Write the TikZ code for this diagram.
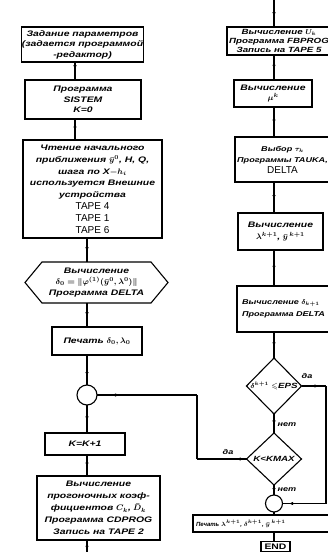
\documentclass[tikz,border=0pt]{standalone}
\usepackage{amsmath,amssymb}
\usepackage{fontspec}
\newfontfamily\hw[FakeStretch=1.3]{Liberation Sans}
\newfontfamily\tp{Liberation Sans}
\usetikzlibrary{shapes.geometric,arrows.meta,decorations.markings}
\begin{document}
\begin{tikzpicture}[x=1pt,y=-1pt,
  every node/.style={inner sep=0pt, outer sep=0pt},
  ln/.style={line width=1.1pt},
  box/.style={draw, ln, align=center, font=\hw\bfseries\itshape\boldmath\fontsize{8}{10.5}\selectfont},
  dia/.style={draw, ln, diamond, font=\hw\bfseries\itshape\boldmath\fontsize{7.5}{9}\selectfont},
  circ/.style={draw, ln, circle},
  lbl/.style={font=\hw\bfseries\itshape\fontsize{7}{8}\selectfont},
  mid/.style={postaction={decorate}, decoration={markings, mark=at position #1 with {\arrow{Latex[length=4pt,width=3.5pt]}}}},
  mid/.default=0.55
]
\useasboundingbox (0,0) rectangle (328,552);
\clip (0,0) rectangle (328,552);
% ---------- left column ----------
\node[box, minimum width=115pt, minimum height=35pt] (b1) at (82.5,44.5)
  {Задание параметров\\(задается программой\\-редактор)};
\node[box, minimum width=116pt, minimum height=39pt] (b2) at (83,99.5)
  {Программа\\SISTEM\\K=0};
\node[box, minimum width=139pt, minimum height=98pt, font=\hw\bfseries\itshape\boldmath\fontsize{8}{11.8}\selectfont] (b3) at (92.5,189)
  {Чтение начального\\приближения $\bar y^0$, H, Q,\\шага по X$-h_i$\\используется Внешние\\устройства\\
   {\tp\mdseries\upshape\fontsize{10}{11}\selectfont TAPE 4}\\
   {\tp\mdseries\upshape\fontsize{10}{11}\selectfont TAPE 1}\\
   {\tp\mdseries\upshape\fontsize{10}{11}\selectfont TAPE 6}};
\node[align=center, font=\hw\bfseries\itshape\boldmath\fontsize{8}{11}\selectfont, minimum width=143pt, minimum height=41pt] (hx) at (96.5,282.5)
  {Вычисление\\$\delta_0=\|\varphi^{(1)}(\bar y^0,\lambda^0)\|$\\Программа DELTA};
\draw[ln] (hx.west) -- ([xshift=17pt]hx.north west) -- ([xshift=-17pt]hx.north east) -- (hx.east)
  -- ([xshift=-17pt]hx.south east) -- ([xshift=17pt]hx.south west) -- cycle;
\node[box, minimum width=90pt, minimum height=28pt] (p1) at (97,341) {Печать $\delta_0,\lambda_0$};
\node[circ, minimum size=20pt] (c1) at (87,395) {};
\node[box, minimum width=80pt, minimum height=22pt] (b5) at (85,444) {K=K+1};
\node[box, minimum width=123pt, minimum height=64pt, font=\hw\bfseries\itshape\boldmath\fontsize{8}{12}\selectfont] (b6) at (98.5,508)
  {Вычисление\\прогоночных коэф-\\фициентов $C_k$,\;$\bar D_k$\\Программа CDPROG\\Запись на TAPE 2};
\coordinate (LA) at (75,0);
\coordinate (LB) at (87,0);
\coordinate (out) at (87,553);
\draw[ln,mid=0.4] (b1.south -| LA) -- (b2.north -| LA);
\draw[ln,mid] (b2.south -| LA) -- (b3.north -| LA);
\draw[ln,mid] (b3.south -| LB) -- (hx.north -| LB);
\draw[ln,mid] (hx.south -| LB) -- (p1.north -| LB);
\draw[ln,mid=0.7] (p1.south -| LB) -- (c1.north);
\draw[ln,mid] (c1.south) -- (b5.north -| LB);
\draw[ln,mid] (b5.south -| LB) -- (b6.north -| LB);
\draw[ln,mid=0.75] (b6.south -| LB) -- (out);
% ---------- right column ----------
\node[box, minimum width=104pt, minimum height=28pt, font=\hw\bfseries\itshape\boldmath\fontsize{7.5}{9.3}\selectfont] (r1) at (279,41)
  {Вычисление $U_k$\\Программа FBPROG\\Запись на TAPE 5};
\node[box, minimum width=78pt, minimum height=27pt] (r2) at (273,93.5) {Вычисление\\$\mu^k$};
\node[box, minimum width=95pt, minimum height=45pt, font=\hw\bfseries\itshape\boldmath\fontsize{7}{11}\selectfont] (r3) at (282.5,159.5)
  {Выбор $\tau_k$\\Программы TAUKA,\\{\tp\mdseries\upshape\fontsize{10}{11}\selectfont DELTA}};
\node[box, minimum width=85pt, minimum height=37pt, font=\hw\bfseries\itshape\boldmath\fontsize{8}{12.5}\selectfont] (r4) at (280.5,231.5)
  {Вычисление\\$\lambda^{k+1}$,\;$\bar y^{\,k+1}$};
\node[box, align=left, text width=98pt, inner xsep=5pt, minimum height=46pt, font=\hw\bfseries\itshape\boldmath\fontsize{7}{12}\selectfont] (r5) at (291,309)
  {Вычисление $\delta_{k+1}$\\Программа DELTA};
\node[dia, minimum width=55pt, minimum height=56pt] (d1) at (274,386)
  {\makebox[0pt]{$\delta^{k+1}\leqslant$EPS}};
\node[dia, minimum width=55pt, minimum height=52pt] (d2) at (274,459)
  {\makebox[0pt]{K<KMAX}};
\node[circ, minimum size=17pt] (c2) at (274,503.5) {};
\node[draw, ln, align=left, text width=136pt, inner xsep=3pt, minimum height=17pt, font=\tp\bfseries\itshape\boldmath\fontsize{6}{7}\selectfont] (pr) at (264,523.5)
  {Печать $\lambda^{k+1}$,\;$\delta^{k+1}$,\;$\bar y^{\,k+1}$};
\node[draw, ln, minimum width=29pt, minimum height=10pt, font=\hw\bfseries\fontsize{8}{9}\selectfont] (en) at (275.5,546.5) {END};
\coordinate (RA) at (274,0);
\coordinate (top) at (274,0);
\coordinate (R1) at (326,0);
\coordinate (L2) at (197,0);
\draw[ln,mid=0.6] (top) -- (r1.north -| RA);
\draw[ln,mid] (r1.south -| RA) -- (r2.north -| RA);
\draw[ln,mid] (r2.south -| RA) -- (r3.north -| RA);
\draw[ln,mid] (r3.south -| RA) -- (r4.north -| RA);
\draw[ln,mid] (r4.south -| RA) -- (r5.north -| RA);
\draw[ln,mid] (r5.south -| RA) -- (d1.north);
\draw[ln,mid] (d1.south) -- (d2.north);
\draw[ln,mid=0.7] (d2.south) -- (c2.north);
\draw[ln] (c2.south) -- (pr.north -| c2);
\draw[ln] (pr.south -| c2) -- (en.north -| c2);
% loops
\draw[ln,mid=0.7] (d1.east) -- (d1.east -| R1);
\draw[ln] (d1.east -| R1) -- (c2.east -| R1);
\draw[ln,mid=0.85] (c2.east -| R1) -- (c2.east);
\draw[ln,mid=0.2] (d2.west) -- (d2.west -| L2);
\draw[ln] (d2.west -| L2) -- (c1.east -| L2);
\draw[ln,mid=0.85] (c1.east -| L2) -- (c1.east);
% labels
\node[lbl] (da1) at (307,376) {да};
\node[lbl] (da2) at (228,452) {да};
\node[lbl] (net1) at (287,425) {нет};
\node[lbl] (net2) at (287,490) {нет};
\end{tikzpicture}
\end{document}
